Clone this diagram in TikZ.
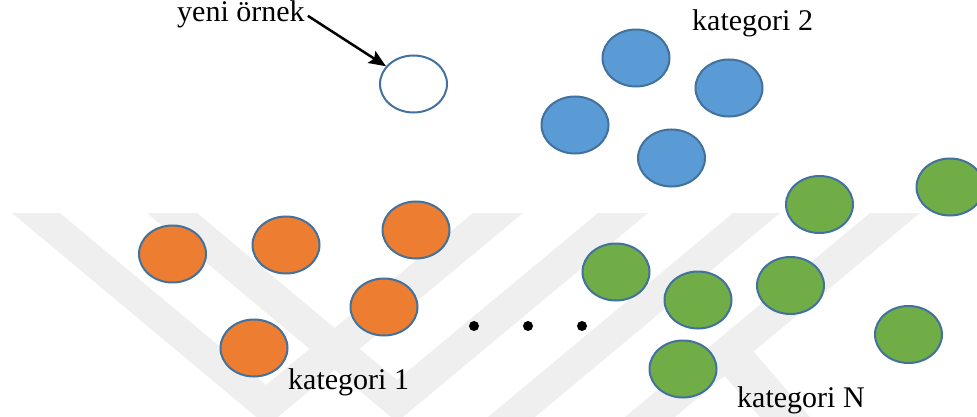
\documentclass[tikz,border=0pt]{standalone}
\usepackage{fontspec}
\setmainfont{Liberation Serif}
\usetikzlibrary{shapes.geometric,arrows.meta}
\definecolor{wmgray}{RGB}{239,239,239}
\definecolor{orangefill}{RGB}{237,125,49}
\definecolor{bluefill}{RGB}{91,155,213}
\definecolor{greenfill}{RGB}{112,173,71}
\definecolor{edgeblue}{RGB}{65,113,156}

\begin{document}
\begin{tikzpicture}[x=1pt,y=-1pt,
    sample/.style={ellipse,draw=edgeblue,line width=2pt,minimum width=67pt,minimum height=57pt,inner sep=0pt},
    cattext/.style={anchor=base west,inner sep=0pt,font=\fontsize{30}{36}\selectfont}]
            \useasboundingbox (0,0) rectangle (977,417);

            % Watermark in the background
            \fill[wmgray] (12,213) -- (60,213) -- (266,385) -- (473,213) -- (523,213) -- (267,426) -- cycle;
            \fill[wmgray] (147,213) -- (197,213) -- (397,380) -- (598,213) -- (648,213) -- (397,422) -- cycle;
            \fill[wmgray] (733,213) -- (780,213) -- (535,417) -- (488,417) -- cycle;
            \fill[wmgray] (870,213) -- (920,213) -- (675,417) -- (625,417) -- cycle;
            \fill[wmgray] (704,352) -- (754,352) -- (810,417) -- (760,417) -- cycle;

            % New sample with its arrow
            \node[sample,fill=white] (new) at (413.5,84) {};
            \node[cattext] (yeni) at (177,22) {yeni örnek};
            \draw[line width=2.5pt,-{Stealth[length=17pt,width=14pt,inset=3pt]}] ([xshift=3pt,yshift=-1pt]yeni.east) -- (new);

            % Category 2
            \node[sample,fill=bluefill] (b1) at (636,58) {};
            \node[sample,fill=bluefill] (b2) at (729,88) {};
            \node[sample,fill=bluefill] (b3) at (575,125) {};
            \node[sample,fill=bluefill] (b4) at (671.5,158) {};
            \node[cattext] (cat2) at (692,31) {kategori 2};

            % Category 1
            \node[sample,fill=orangefill] (o1) at (172.5,254) {};
            \node[sample,fill=orangefill] (o2) at (286,245) {};
            \node[sample,fill=orangefill] (o3) at (416,230) {};
            \node[sample,fill=orangefill] (o4) at (384,307) {};
            \node[sample,fill=orangefill] (o5) at (254,348) {};
            \node[cattext] (cat1) at (288,389) {kategori 1};

            % Category N
            \node[sample,fill=greenfill] (g1) at (819.5,204.5) {};
            \node[sample,fill=greenfill] (g2) at (950,187) {};
            \node[sample,fill=greenfill] (g3) at (616,272) {};
            \node[sample,fill=greenfill] (g4) at (698,300) {};
            \node[sample,fill=greenfill] (g5) at (790.5,285.5) {};
            \node[sample,fill=greenfill] (g6) at (908.5,334.5) {};
            \node[sample,fill=greenfill] (g7) at (683,369) {};
            \node[cattext] (catN) at (737,407) {kategori N};

            % Dots between the categories
            \fill (474,326) circle (5pt);
            \fill (528,326) circle (5pt);
            \fill (582,326) circle (5pt);
        \end{tikzpicture}
\end{document}
